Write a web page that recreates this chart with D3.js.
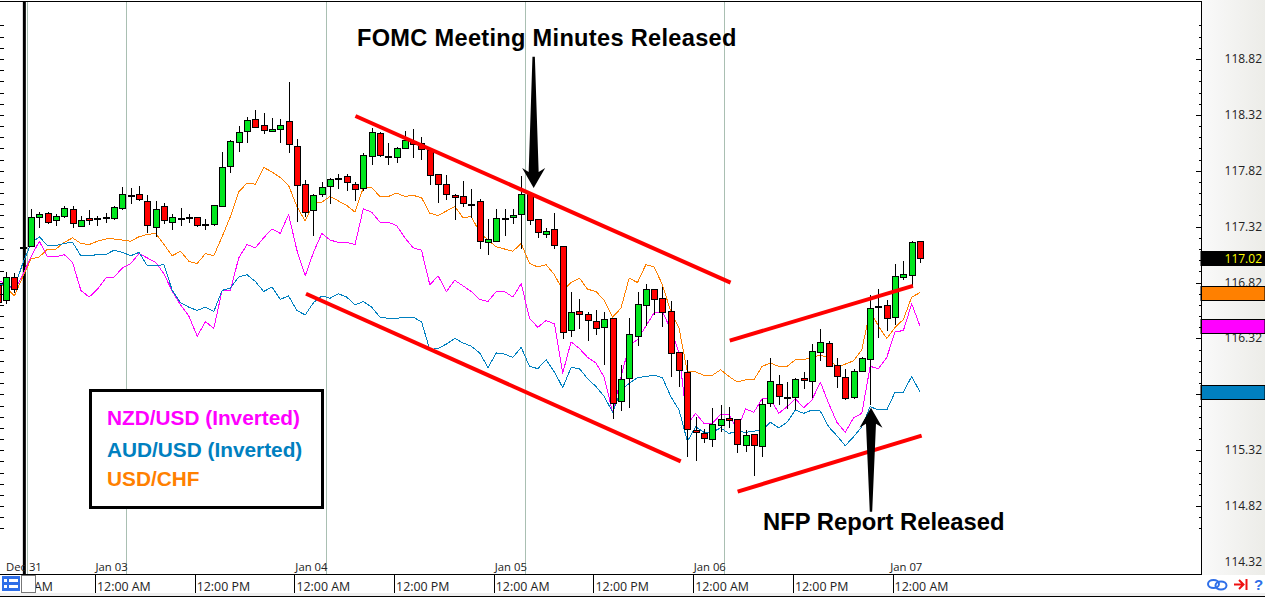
<!DOCTYPE html>
<html><head><meta charset="utf-8">
<script src="https://cdn.jsdelivr.net/npm/d3@7"></script>
<style>html,body{margin:0;padding:0;background:#fff;overflow:hidden}svg{display:block}
text{font-family:"Open Sans",sans-serif}
.b{font-family:"Liberation Sans",Arial,sans-serif;font-weight:700}</style>
</head><body><svg id="c" width="1265" height="599"></svg>
<script>
// hourly USD/JPY candles; the first bar sits at index -4
const firstBar = -4;
const opens = [116.798,116.664,116.870,117.130,117.147,117.407,117.442,117.380,117.416,117.478,117.326,117.398,117.389,117.407,117.398,117.487,117.603,117.612,117.550,117.317,117.505,117.362,117.398,117.398,117.407,117.344,117.344,117.505,117.863,118.078,118.176,118.283,118.230,118.176,118.194,118.265,118.042,117.702,117.469,117.612,117.684,117.756,117.773,117.702,117.666,117.952,118.158,117.952,117.943,118.024,118.087,118.069,118.006,117.791,117.702,117.603,117.595,117.523,117.550,117.183,117.192,117.398,117.407,117.434,117.621,117.389,117.255,117.299,117.147,116.396,116.566,116.539,116.476,116.423,116.503,115.761,115.967,116.342,116.620,116.763,116.682,116.566,116.199,116.020,115.501,115.474,115.421,115.546,115.609,115.600,115.367,115.465,115.358,115.743,115.913,115.796,115.796,115.967,115.940,116.199,116.279,116.083,115.975,115.796,116.029,116.136,116.611,116.620,116.512,116.870,116.888,117.192];
const highs = [116.816,116.915,116.906,117.174,117.478,117.451,117.451,117.434,117.505,117.505,117.416,117.469,117.416,117.442,117.505,117.675,117.666,117.684,117.603,117.550,117.532,117.434,117.487,117.434,117.410,117.389,117.518,117.988,118.096,118.221,118.301,118.364,118.337,118.292,118.283,118.614,118.104,117.738,117.612,117.720,117.756,117.791,117.791,117.720,117.979,118.203,118.167,118.069,118.033,118.176,118.194,118.122,118.015,117.794,117.783,117.612,117.729,117.657,117.568,117.389,117.478,117.478,117.478,117.773,117.624,117.392,117.308,117.442,117.150,116.736,116.673,116.557,116.575,116.557,116.506,116.083,116.503,116.736,116.807,116.766,116.781,116.655,116.202,116.127,115.618,115.510,115.698,115.725,115.707,115.603,115.501,115.468,115.779,116.145,115.993,115.931,115.967,116.020,116.270,116.405,116.297,116.145,116.047,116.047,116.154,116.709,116.763,116.664,116.986,117.013,117.192,117.195];
const lows = [116.628,116.628,116.727,117.112,117.140,117.308,117.344,117.326,117.398,117.308,117.320,117.335,117.326,117.353,117.380,117.469,117.523,117.550,117.263,117.228,117.344,117.290,117.326,117.353,117.317,117.290,117.326,117.496,117.800,117.988,118.069,118.203,118.149,118.167,118.069,117.979,117.362,117.407,117.237,117.586,117.523,117.657,117.639,117.550,117.639,117.872,117.943,117.872,117.890,118.015,117.934,117.917,117.693,117.532,117.559,117.380,117.496,117.398,117.120,117.067,117.183,117.237,117.344,117.120,117.335,117.219,117.219,117.120,116.315,116.333,116.405,116.297,116.351,116.083,115.600,115.671,115.698,116.253,116.432,116.530,116.423,115.975,115.886,115.260,115.224,115.385,115.349,115.483,115.519,115.295,115.304,115.090,115.260,115.707,115.725,115.689,115.680,115.868,115.787,116.118,116.071,115.877,115.770,115.779,116.025,115.725,116.324,116.387,116.441,116.843,116.790,116.995];
const closes = [116.646,116.870,116.763,117.139,117.407,117.434,117.362,117.416,117.487,117.353,117.380,117.380,117.398,117.410,117.496,117.612,117.606,117.568,117.335,117.478,117.380,117.407,117.401,117.407,117.335,117.341,117.514,117.854,118.087,118.167,118.274,118.212,118.185,118.194,118.230,118.060,117.693,117.451,117.603,117.675,117.747,117.753,117.720,117.657,117.961,118.167,117.961,117.949,118.024,118.096,118.060,118.015,117.783,117.702,117.612,117.586,117.532,117.520,117.192,117.210,117.398,117.401,117.425,117.612,117.380,117.272,117.281,117.156,116.378,116.557,116.539,116.485,116.414,116.494,115.743,115.958,116.360,116.628,116.763,116.673,116.557,116.190,116.038,115.510,115.483,115.430,115.555,115.600,115.591,115.376,115.456,115.367,115.734,115.940,115.805,115.793,115.958,115.949,116.208,116.288,116.074,115.984,115.787,116.029,116.145,116.593,116.608,116.503,116.879,116.897,117.183,117.040];

// overlay series plotted on the price axis
const usdChf = [116.82,116.78,116.70,116.87,117.03,117.05,117.12,117.12,117.18,117.22,117.17,117.16,117.19,117.21,117.21,117.20,117.19,117.23,117.25,117.26,117.16,117.06,117.10,117.01,116.99,117.08,117.06,117.23,117.41,117.63,117.71,117.70,117.85,117.81,117.76,117.69,117.50,117.37,117.53,117.54,117.59,117.55,117.51,117.45,117.67,117.67,117.59,117.59,117.62,117.59,117.60,117.58,117.44,117.42,117.46,117.50,117.40,117.41,117.27,117.20,117.14,117.12,117.10,117.17,116.99,116.96,116.98,116.89,116.75,116.82,116.86,116.76,116.74,116.66,116.51,116.59,116.86,116.82,116.98,116.96,116.80,116.56,116.41,116.02,116.02,115.99,115.99,116.04,115.98,115.93,115.95,115.95,116.07,116.10,116.07,116.07,116.13,116.13,116.15,116.17,116.15,116.06,116.09,116.12,116.22,116.57,116.43,116.32,116.42,116.49,116.69,116.73];
const nzdUsdInv = [116.84,116.81,116.75,116.89,117.05,117.19,117.05,117.05,117.07,117.00,116.75,116.69,116.76,116.86,116.87,116.95,116.99,117.08,117.04,117.00,116.90,116.74,116.62,116.52,116.34,116.47,116.41,116.75,116.75,117.04,117.16,117.13,117.22,117.30,117.26,117.43,117.11,116.88,117.09,117.26,117.20,117.18,117.18,117.16,117.48,117.45,117.36,117.36,117.33,117.22,117.13,117.11,116.80,116.88,116.74,116.84,116.79,116.74,116.67,116.65,116.74,116.74,116.69,116.81,116.50,116.42,116.48,116.45,116.01,116.29,116.23,116.15,116.10,115.97,115.66,115.97,116.26,116.31,116.43,116.55,116.56,116.40,116.19,115.55,115.65,115.56,115.56,115.64,115.64,115.50,115.69,115.66,115.78,115.78,115.65,115.71,115.78,115.70,115.77,115.93,115.74,115.57,115.48,115.61,115.65,116.07,116.05,116.15,116.38,116.39,116.63,116.43];
const audUsdInv = [116.80,116.80,116.77,116.99,117.17,117.23,117.15,117.15,117.17,117.18,117.06,117.06,117.07,117.07,117.11,117.09,117.06,117.09,116.97,116.97,116.98,116.75,116.64,116.60,116.57,116.60,116.56,116.75,116.77,116.87,116.89,116.83,116.74,116.78,116.67,116.70,116.57,116.53,116.64,116.70,116.68,116.72,116.69,116.62,116.65,116.60,116.51,116.50,116.50,116.51,116.51,116.47,116.22,116.23,116.27,116.32,116.28,116.25,116.19,116.06,116.19,116.18,116.15,116.24,116.07,116.05,116.13,116.02,115.88,116.06,116.05,115.96,115.89,115.80,115.66,115.85,115.92,115.97,115.98,115.99,115.97,115.80,115.68,115.40,115.53,115.48,115.48,115.52,115.47,115.49,115.48,115.49,115.50,115.57,115.52,115.57,115.68,115.65,115.68,115.67,115.53,115.45,115.36,115.44,115.53,115.71,115.68,115.68,115.84,115.84,115.98,115.84];

const priceLabels = [118.82,118.32,117.82,117.32,116.82,116.32,115.82,115.32,114.82,114.32];
const hiddenPriceLabels = [115.82];
const lastTags = [
  {name:"USD/JPY", value:117.02},
  {name:"USD/CHF", value:116.73},
  {name:"NZD/USD", value:116.43},
  {name:"AUD/USD", value:115.84}
];
const dayBars = [11.45,35.5,59.5,83.45];
const dayLabelBars = [-0.9,11.45,35.5,59.5,83.45,107.1];
const dayLabels = ["Dec 31","Jan 03","Jan 04","Jan 05","Jan 06","Jan 07"];
const timeBars = [-4.3,7.7,19.7,31.7,43.7,55.7,67.7,79.7,91.7,103.7];
const timeLabels = ["12:00 AM","12:00 AM","12:00 PM","12:00 AM","12:00 PM","12:00 AM","12:00 PM","12:00 AM","12:00 PM","12:00 AM"];
const sessionBar = -0.8;
const seriesNames = ["NZD/USD (Inverted)","AUD/USD (Inverted)","USD/CHF"];
const channelLines = [
  [39.05,118.31,84.2,116.82],
  [33.1,116.72,78.2,115.22],
  [84.1,116.30,106.15,116.79],
  [85.05,114.95,107.2,115.45]
];
const callouts = [
  {bar:60.5,tip:117.666,tail:118.84,text:"FOMC Meeting Minutes Released"},
  {bar:101.1,tip:115.70,tail:114.77,text:"NFP Report Released"}
];
const colours = {chf:"#ff8000",nzd:"#ff00ff",aud:"#0080c0",up:"#00e61e",down:"#ff0000",grid:"#a9bfb2"};

const W=1265,H=599,plotR=1201,plotB=574,plotT=1;
const x=d3.scaleLinear().domain([0,107]).range([31,920]);
const y=d3.scaleLinear().domain([118.82,114.32]).range([59,562]);
const svg=d3.select("#c");

// right price panel
const defs=svg.append("defs");
const g0=defs.append("linearGradient").attr("id","panel");
g0.append("stop").attr("offset","0").attr("stop-color","#fafafa");
g0.append("stop").attr("offset","1").attr("stop-color","#ecece8");
defs.append("clipPath").attr("id","plot").append("rect").attr("x",0).attr("y",plotT).attr("width",plotR).attr("height",plotB-plotT);
defs.append("filter").attr("id","soft").attr("x","-40%").attr("width","180%").append("feGaussianBlur").attr("stdDeviation",0.6);
svg.append("rect").attr("x",plotR).attr("y",0).attr("width",W-plotR).attr("height",plotB+1).attr("fill","url(#panel)");

const plot=svg.append("g").attr("clip-path","url(#plot)");
// day grid
plot.selectAll(".grid").data([-0.5].concat(dayBars)).join("line")
 .attr("x1",d=>Math.round(x(d))+.5).attr("x2",d=>Math.round(x(d))+.5)
 .attr("y1",plotT).attr("y2",plotB).attr("stroke",colours.grid);
plot.append("line").attr("x1",x(sessionBar)).attr("x2",x(sessionBar)).attr("y1",plotT).attr("y2",plotB)
 .attr("stroke","#000").attr("stroke-width",3);

// overlays
const line=d3.line().x((d,i)=>x(i+firstBar)).y(d=>y(d));
[[usdChf,colours.chf],[nzdUsdInv,colours.nzd],[audUsdInv,colours.aud]].forEach(([s,c])=>{
 plot.append("path").attr("d",line(s)).attr("fill","none").attr("stroke",c).attr("stroke-width",1)
  .attr("stroke-linejoin","round").attr("shape-rendering","crispEdges");
});

// candles
const bars=plot.selectAll(".bar").data(opens.map((o,i)=>i)).join("g");
bars.append("line")
 .attr("x1",i=>Math.round(x(i+firstBar))+.5).attr("x2",i=>Math.round(x(i+firstBar))+.5)
 .attr("y1",i=>Math.round(y(highs[i]))).attr("y2",i=>Math.round(y(lows[i])))
 .attr("stroke","#000").attr("stroke-width",1).attr("shape-rendering","crispEdges");
bars.append("rect")
 .attr("x",i=>Math.round(x(i+firstBar))-3+.5).attr("width",6)
 .attr("y",i=>Math.round(y(Math.max(opens[i],closes[i])))+.5)
 .attr("height",i=>Math.max(1,Math.round(y(Math.min(opens[i],closes[i])))-Math.round(y(Math.max(opens[i],closes[i])))))
 .attr("fill",i=>closes[i]>=opens[i]?colours.up:colours.down)
 .attr("stroke","#000").attr("stroke-width",1).attr("shape-rendering","crispEdges");

// channels
plot.selectAll(".ch").data(channelLines).join("line")
 .attr("x1",d=>x(d[0])).attr("y1",d=>y(d[1])).attr("x2",d=>x(d[2])).attr("y2",d=>y(d[3]))
 .attr("stroke","#ff0000").attr("stroke-width",4);

// legend
svg.append("rect").attr("x",90.5).attr("y",390.5).attr("width",232).attr("height",117).attr("fill","#fff").attr("stroke","#000").attr("stroke-width",3);
svg.selectAll(".lg").data(seriesNames).join("text").attr("class","b")
 .attr("x",107).attr("y",(d,i)=>[425,457,486][i]).attr("font-size",20.8)
 .attr("fill",(d,i)=>[colours.nzd,colours.aud,colours.chf][i]).text(d=>d);

// price axes
const minorTicks=d3.range(0,46).map(i=>118.82-i*0.1+0.3).filter(v=>y(v)>plotT&&y(v)<plotB).map(v=>+v.toFixed(2));
const isMajor=v=>priceLabels.some(p=>Math.abs(p-v)<0.001);
const axR=d3.axisLeft(y).tickValues(minorTicks).tickSizeOuter(0).tickFormat("").tickSize(3);
const gR=svg.append("g").attr("transform",`translate(${plotR+.5},0)`).call(axR);
gR.selectAll("line").attr("x2",d=>isMajor(d)?-6:-3).attr("stroke","#000").attr("shape-rendering","crispEdges");
gR.select(".domain").remove();
const axL=d3.axisRight(y).tickValues(minorTicks).tickSizeOuter(0).tickFormat("").tickSize(4);
const gL=svg.append("g").attr("transform","translate(0,0)").call(axL);
gL.select(".domain").remove();
gL.selectAll("line").attr("stroke","#000").attr("shape-rendering","crispEdges");

svg.selectAll(".pl").data(priceLabels.filter(p=>!hiddenPriceLabels.includes(p))).join("text")
 .attr("x",1262).attr("y",d=>y(d)+4).attr("text-anchor","end").attr("font-size",12).attr("fill","#222").text(d=>d.toFixed(2));

// last-value tags
const tagCols=["#000",colours.chf,colours.nzd,colours.aud];
lastTags.forEach((t,i)=>{
 const top=[251,286,319,385][i];
 svg.append("rect").attr("x",plotR).attr("y",top+.5).attr("width",W-plotR).attr("height",14).attr("fill",tagCols[i]).attr("stroke","#000");
 if(i===0) svg.append("text").attr("x",1262).attr("y",top+12).attr("text-anchor","end").attr("font-size",12).attr("fill","#ffff00").text(t.value.toFixed(2));
});

// frame
svg.append("line").attr("x1",0).attr("x2",plotR).attr("y1",1.5).attr("y2",1.5).attr("stroke","#000");
svg.append("line").attr("x1",plotR+.5).attr("x2",plotR+.5).attr("y1",1).attr("y2",plotB+1).attr("stroke","#000");
svg.append("line").attr("x1",0).attr("x2",plotR+1).attr("y1",plotB+.5).attr("y2",plotB+.5).attr("stroke","#000");

// callouts
const arrow=(c)=>{
 const X=x(c.bar),T=y(c.tip),B=y(c.tail),s=Math.sign(B-T);
 const hy=T+s*21, ny=T+s*16;
 return `M${X},${T}L${X+11.5},${hy-s*1}L${X+5},${ny}L${X+1.2},${B}L${X-1.2},${B}L${X-5},${ny}L${X-11.5},${hy-s*1}Z`;
};
svg.selectAll(".ar").data(callouts).join("path").attr("d",arrow).attr("fill","#000").attr("filter","url(#soft)");
svg.append("text").attr("class","b").attr("x",357).attr("y",46).attr("font-size",23.6).attr("letter-spacing",0.3).text(callouts[0].text);
svg.append("text").attr("class","b").attr("x",763).attr("y",530).attr("font-size",23.8).text(callouts[1].text);

// date row
svg.selectAll(".dl").data(dayLabels).join("text")
 .attr("x",(d,i)=>i===0?6:x(dayLabelBars[i])+1.5).attr("y",571)
 .attr("text-anchor",(d,i)=>i===0?"start":"end").attr("font-size",11.3).attr("fill","#222").text(d=>d);

// time row
svg.selectAll(".ts").data(timeBars.slice(1)).join("line")
 .attr("x1",d=>Math.round(x(d))+.5).attr("x2",d=>Math.round(x(d))+.5).attr("y1",plotB).attr("y2",593).attr("stroke","#000");
svg.selectAll(".tl").data(timeLabels.slice(1)).join("text")
 .attr("x",(d,i)=>x(timeBars[i+1])+2).attr("y",591).attr("font-size",12.4).attr("fill","#222").text(d=>d);
svg.append("text").attr("x",34).attr("y",591).attr("font-size",12.4).attr("fill","#222").text("AM");

// toolbar scraps
svg.append("rect").attr("x",0).attr("y",593).attr("width",W).attr("height",3).attr("fill","#f0f0f0");
svg.append("line").attr("x1",0).attr("x2",W).attr("y1",596.5).attr("y2",596.5).attr("stroke","#000");
svg.append("rect").attr("x",2).attr("y",576).attr("width",18).attr("height",15).attr("fill","#2f6fe8");
[[4,578],[4,584]].forEach(p=>{
 svg.append("rect").attr("x",p[0]).attr("y",p[1]+1).attr("width",3).attr("height",3).attr("fill","#fff");
 svg.append("rect").attr("x",p[0]+5).attr("y",p[1]+1).attr("width",9).attr("height",3).attr("fill","#fff");
});
svg.append("rect").attr("x",21.5).attr("y",575.5).attr("width",14).attr("height",17).attr("fill","#fff").attr("stroke","#777");
// link, jump and help glyphs
svg.append("ellipse").attr("cx",1213.5).attr("cy",584).attr("rx",5.5).attr("ry",4).attr("fill","none").attr("stroke","#2f6fe8").attr("stroke-width",2);
svg.append("ellipse").attr("cx",1221).attr("cy",585.5).attr("rx",5.5).attr("ry",4).attr("fill","none").attr("stroke","#2f6fe8").attr("stroke-width",2);
svg.append("path").attr("d","M1234,584.5H1243M1239,580L1243.5,584.5L1239,589M1246.5,579V590").attr("fill","none").attr("stroke","#ee1111").attr("stroke-width",2);
svg.append("text").attr("class","b").attr("x",1254).attr("y",590).attr("font-size",15).attr("fill","#2f6fe8").text("?");
</script></body></html>
